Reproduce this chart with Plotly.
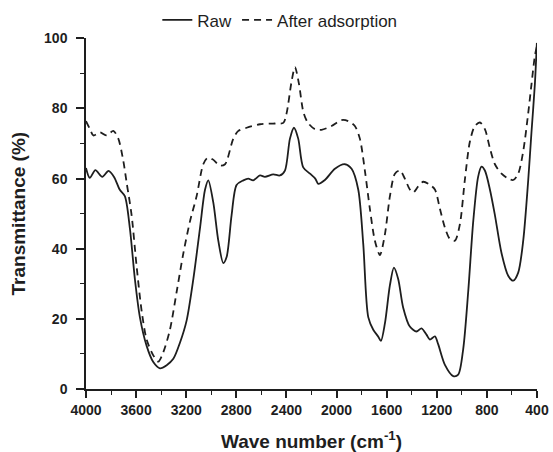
import plotly.graph_objects as go

# Raw sample (solid)
wn_raw = [4000, 3970, 3925, 3870, 3820, 3775, 3730, 3690, 3650, 3610, 3570, 3516, 3463, 3409,
          3356, 3303, 3250, 3197, 3143, 3090, 3050, 3024, 2984, 2944, 2904, 2877, 2838, 2798,
          2744, 2705, 2665, 2611, 2572, 2505, 2452, 2412, 2372, 2340, 2306, 2266, 2212, 2170,
          2146, 2093, 2013, 1934, 1880, 1827, 1787, 1747, 1707, 1668, 1646, 1614, 1574, 1542,
          1508, 1468, 1415, 1362, 1322, 1282, 1255, 1215, 1189, 1135, 1069, 1029, 989, 949,
          909, 870, 843, 816, 776, 736, 683, 630, 590, 550, 510, 470, 444, 417, 401]
t_raw = [63.0, 60.2, 62.4, 60.5, 62.2, 60.4, 56.8, 55.0, 45.9, 31.4, 20.5, 12.3, 7.7, 5.9,
         6.8, 8.6, 13.2, 19.5, 31.4, 45.9, 56.8, 59.5, 53.2, 42.3, 35.9, 37.7, 49.5, 58.2,
         59.5, 60.0, 59.5, 60.9, 60.5, 61.2, 60.9, 62.3, 71.4, 74.5, 71.4, 63.2, 61.4, 60.0,
         58.5, 59.6, 62.8, 64.1, 62.8, 56.9, 41.4, 20.5, 16.9, 15.0, 13.7, 18.7, 29.6, 34.6,
         31.4, 23.2, 17.8, 16.4, 17.3, 15.5, 14.1, 15.0, 12.8, 6.9, 3.7, 4.1, 11.4, 27.8,
         47.8, 60.5, 63.4, 62.3, 56.9, 49.6, 38.7, 32.3, 30.9, 33.2, 42.3, 59.6, 73.3, 86.9, 98.7]

# After adsorption (dashed)
wn_ads = [4000, 3968, 3941, 3888, 3835, 3782, 3742, 3702, 3675, 3636, 3596, 3556, 3516, 3463,
          3423, 3383, 3330, 3276, 3223, 3170, 3117, 3064, 3030, 2990, 2930, 2890, 2824, 2784,
          2718, 2611, 2505, 2425, 2399, 2359, 2332, 2300, 2265, 2230, 2173, 2120, 2040, 1960,
          1907, 1854, 1814, 1774, 1734, 1694, 1654, 1614, 1574, 1534, 1494, 1455, 1415, 1388,
          1348, 1308, 1255, 1215, 1175, 1135, 1096, 1056, 1016, 976, 936, 896, 856, 816,
          776, 736, 683, 630, 590, 550, 510, 470, 444, 417, 401]
t_ads = [76.4, 74.1, 72.3, 73.2, 72.3, 73.6, 71.4, 65.0, 58.7, 49.6, 35.0, 22.3, 14.1, 9.6,
         7.8, 10.5, 16.9, 27.8, 38.7, 47.8, 55.0, 64.1, 65.9, 65.5, 63.7, 64.1, 71.4, 73.6,
         74.5, 75.5, 75.7, 75.9, 78.6, 87.7, 91.8, 87.0, 79.0, 76.0, 74.1, 73.9, 75.0, 76.7,
         76.4, 75.0, 71.4, 62.3, 51.4, 42.3, 38.2, 44.1, 55.0, 61.4, 62.3, 60.0, 56.9, 56.0,
         57.8, 59.1, 58.2, 56.9, 51.4, 46.0, 42.8, 42.3, 46.9, 59.6, 70.5, 75.0, 76.0, 74.1,
         68.7, 64.1, 61.4, 60.0, 59.6, 61.4, 67.8, 78.7, 86.9, 95.0, 97.7]

x_ticks = [4000, 3600, 3200, 2800, 2400, 2000, 1600, 1200, 800, 400]
y_ticks = [0, 20, 40, 60, 80, 100]

ink = "#1e1e1e"
FONT = "Liberation Sans, Arial, sans-serif"
fig = go.Figure()
fig.add_trace(go.Scatter(x=wn_raw, y=t_raw, mode="lines", name="Raw",
                         line=dict(color=ink, width=1.8, shape="spline", smoothing=0.8)))
fig.add_trace(go.Scatter(x=wn_ads, y=t_ads, mode="lines", name="After adsorption",
                         line=dict(color=ink, width=1.8, dash="7px,5px", shape="spline", smoothing=0.8)))

fig.update_layout(
    width=553, height=452,
    margin=dict(l=86, r=16, t=22, b=63),
    paper_bgcolor="white", plot_bgcolor="white",
    font=dict(family=FONT, color=ink),
    showlegend=True,
    legend=dict(orientation="h", xref="container", yref="container",
                x=0.506, xanchor="center", y=0.955, yanchor="middle",
                font=dict(size=17, color=ink), bgcolor="rgba(0,0,0,0)", tracegroupgap=0),
    xaxis=dict(range=[4000, 400], autorange=False, automargin=False,
               tickmode="array", tickvals=x_ticks, ticktext=[str(v) for v in x_ticks],
               showline=True, linecolor=ink, linewidth=1.5, showgrid=False, zeroline=False,
               ticks="outside", ticklen=7, tickwidth=1.5, tickcolor=ink,
               minor=dict(tickmode="linear", tick0=400, dtick=200, ticks="outside",
                          ticklen=4, tickwidth=1.2, tickcolor=ink, showgrid=False),
               tickfont=dict(size=14, family=FONT, weight="bold"),
               title=dict(text="<b>Wave number (cm<sup>-1</sup>)</b>", font=dict(size=19), standoff=20)),
    yaxis=dict(range=[0, 100], autorange=False, automargin=False,
               tickmode="array", tickvals=y_ticks, ticktext=[str(v) for v in y_ticks],
               showline=True, linecolor=ink, linewidth=1.5, showgrid=False, zeroline=False,
               ticks="outside", ticklen=8, tickwidth=1.5, tickcolor=ink,
               minor=dict(tickmode="linear", tick0=0, dtick=10, ticks="outside",
                          ticklen=4, tickwidth=1.2, tickcolor=ink, showgrid=False),
               ticklabelstandoff=6,
               tickfont=dict(size=14, family=FONT, weight="bold"),
               title=dict(text="<b>Transmittance (%)</b>", font=dict(size=19), standoff=13)),
)

fig.write_html("out.html")
